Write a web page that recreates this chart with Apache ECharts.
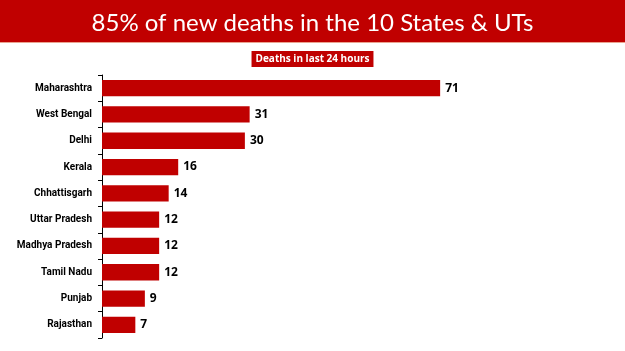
<!DOCTYPE html>
<html>
<head>
<meta charset="utf-8">
<script src="https://cdn.jsdelivr.net/npm/echarts@6/dist/echarts.min.js"></script>
<style>
  html, body { margin: 0; padding: 0; background: #fff; }
  #chart { width: 625px; height: 351px; }
</style>
</head>
<body>
<div id="chart"></div>
<script>
var states = ['Maharashtra', 'West Bengal', 'Delhi', 'Kerala', 'Chhattisgarh',
  'Uttar Pradesh', 'Madhya Pradesh', 'Tamil Nadu', 'Punjab', 'Rajasthan']
var deaths = [71, 31, 30, 16, 14, 12, 12, 12, 9, 7]

var chart = echarts.init(document.getElementById('chart'))

chart.setOption({
  animation: false,
  graphic: [{
    type: 'rect',
    shape: { x: 0, y: 0, width: 625, height: 42 },
    style: { fill: '#c00000' }
  }, {
    type: 'rect',
    shape: { x: 0, y: 42, width: 625, height: 1 },
    style: { fill: '#e9a38f' }
  }],
  title: [{
    text: '85% of new deaths in the 10 States & UTs',
    left: 'center',
    top: 6,
    textStyle: {
      color: '#fff',
      fontFamily: 'Lato',
      fontWeight: 'normal',
      fontSize: 24
    }
  }, {
    text: 'Deaths in last 24 hours',
    left: 'center',
    top: 51,
    padding: [3, 4, 3, 4],
    backgroundColor: '#c00000',
    textStyle: {
      color: '#fff',
      fontFamily: 'Open Sans',
      fontWeight: 'bold',
      fontSize: 10
    }
  }],
  grid: {
    left: 102,
    top: 75,
    width: 381,
    height: 263
  },
  xAxis: {
    type: 'value',
    min: 0,
    max: 80,
    show: false
  },
  yAxis: {
    type: 'category',
    data: states,
    inverse: true,
    axisLine: { show: true, lineStyle: { color: '#000', width: 1 } },
    axisTick: { show: true, length: 4, lineStyle: { color: '#000', width: 1 } },
    axisLabel: {
      color: '#000',
      fontFamily: 'Roboto',
      fontWeight: 'bold',
      fontSize: 10,
      margin: 10
    }
  },
  series: [{
    type: 'bar',
    data: deaths,
    barWidth: '62%',
    itemStyle: { color: '#c00000' },
    label: {
      show: true,
      position: 'right',
      distance: 5,
      color: '#000',
      fontFamily: 'Open Sans',
      fontWeight: 'bold',
      fontSize: 12
    }
  }]
})
</script>
</body>
</html>
